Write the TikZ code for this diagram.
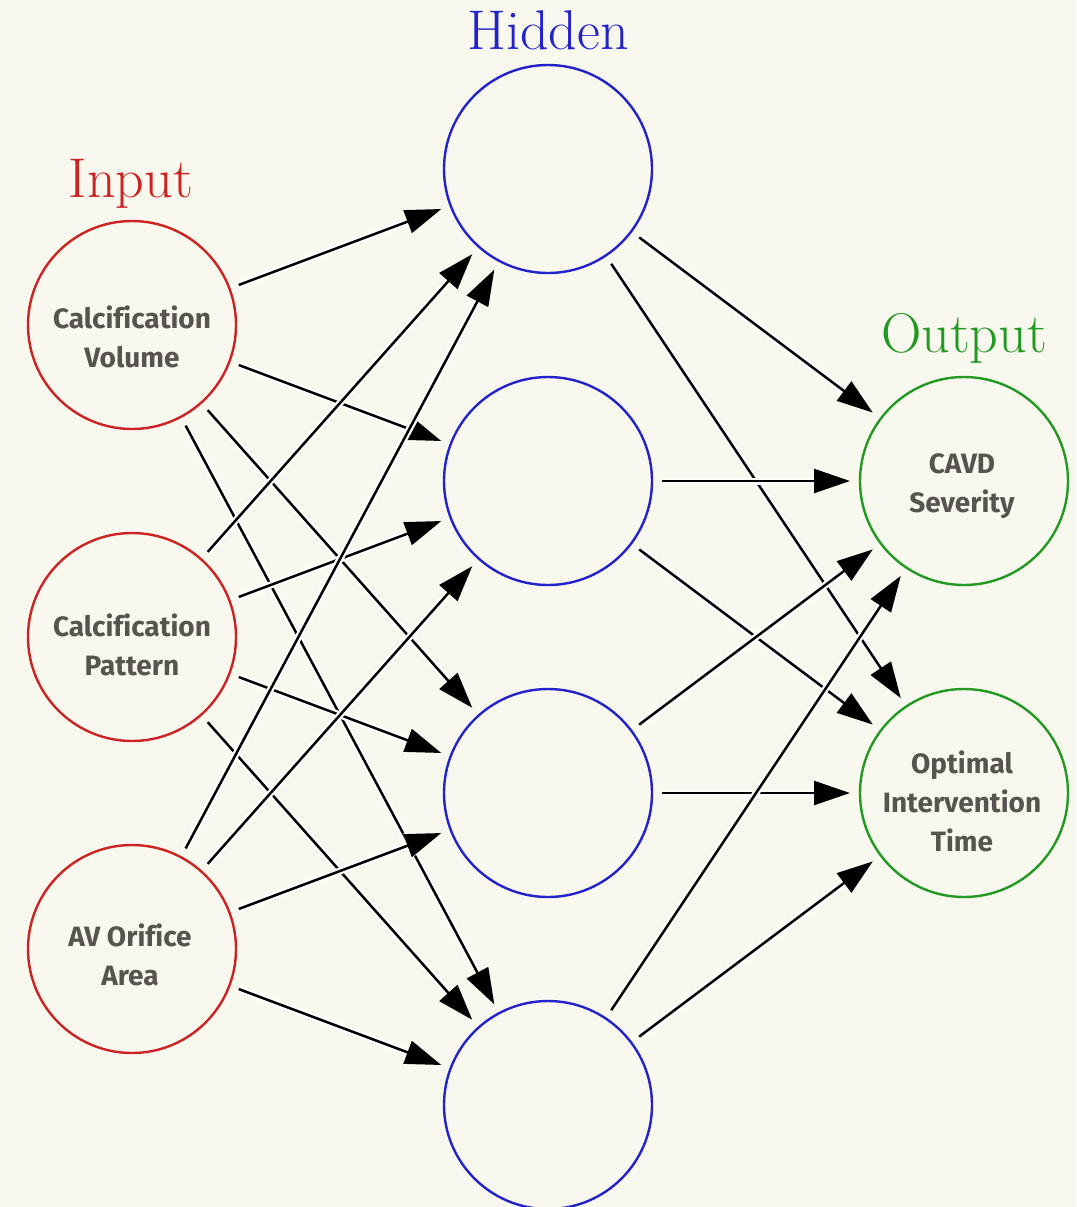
\documentclass[tikz,border=0pt]{standalone}
\usepackage{fontspec}
\setsansfont[Ligatures=NoCommon]{Fira Sans}
\usetikzlibrary{arrows.meta}
\definecolor{bgc}{HTML}{F9F8EE}
\definecolor{inred}{HTML}{CC2222}
\definecolor{hidblue}{HTML}{2222CC}
\definecolor{outgreen}{HTML}{229922}
\definecolor{txtgray}{HTML}{57534F}
\tikzset{
  neuron/.style={circle, minimum size=208pt, inner sep=0pt, outer sep=10pt, line width=2.4pt},
  inneuron/.style={neuron, draw=inred},
  hidneuron/.style={neuron, draw=hidblue},
  outneuron/.style={neuron, draw=outgreen},
  celltext/.style={font=\sffamily\bfseries\fontsize{28}{39}\selectfont, text=txtgray, align=center},
  layertitle/.style={font=\fontsize{56}{60}\selectfont, anchor=base},
  conn/.style={line width=2.5pt, draw=black, -{Triangle[length=36pt,width=24pt]},
    preaction={draw=white, line width=7pt, -{Triangle[length=36pt,width=24pt]}}}
}
\begin{document}
\begin{tikzpicture}[x=1pt,y=-1pt]
\fill[bgc] (0,0) rectangle (1076,1207);
\useasboundingbox (0,0) rectangle (1076,1207);
% neurons
\node[inneuron] (i1) at (132,325) {};
\node[inneuron] (i2) at (132,637) {};
\node[inneuron] (i3) at (132,949) {};
\node[hidneuron] (h1) at (548,169) {};
\node[hidneuron] (h2) at (548,481) {};
\node[hidneuron] (h3) at (548,793) {};
\node[hidneuron] (h4) at (548,1105) {};
\node[outneuron] (o1) at (964,481) {};
\node[outneuron] (o2) at (964,793) {};
% texts
\node[celltext] (ti1) at (132,337) {Calcification\\Volume};
\node[celltext] (ti2) at (132,645) {Calcification\\Pattern};
\node[celltext] (ti3) at (130,955) {AV Orifice\\Area};
\node[celltext] (to1) at (962,486) {CAVD\\Severity};
\node[celltext] (to2) at (962,801) {Optimal\\Intervention\\Time};
% titles
\node[layertitle, text=inred] (tin) at (131,197) {Input};
\node[layertitle, text=hidblue] (thid) at (548,50) {Hidden};
\node[layertitle, text=outgreen] (tout) at (964,352) {Output};
% connections
\foreach \a in {i1,i2,i3}{
  \foreach \b in {h1,h2,h3,h4}{
    \draw[conn] (\a) -- (\b);
  }
}
\foreach \a in {h1,h2,h3,h4}{
  \foreach \b in {o1,o2}{
    \draw[conn] (\a) -- (\b);
  }
}
\end{tikzpicture}
\end{document}
